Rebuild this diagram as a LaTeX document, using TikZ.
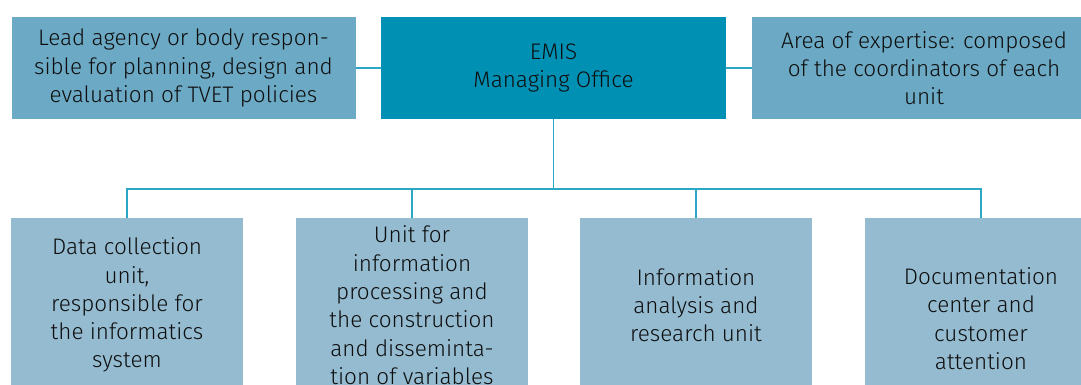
\documentclass[tikz,border=0pt]{standalone}
\usepackage{fontspec}
\setmainfont{Fira Sans Light}
\definecolor{emisOffice}{HTML}{0090B4}
\definecolor{emisSide}{HTML}{6BA9C4}
\definecolor{emisUnit}{HTML}{94BBD0}
\definecolor{emisLink}{HTML}{2BA6C4}
\definecolor{emisText}{HTML}{0E0E0E}

\begin{document}
\begin{tikzpicture}[x=1pt, y=-1pt,
    box/.style={rectangle, inner sep=0pt, align=center, text=emisText,
        font=\fontsize{22.5}{28.3}\selectfont},
    sidebox/.style={box, fill=emisSide, minimum width=344pt, minimum height=102pt},
    officebox/.style={box, fill=emisOffice, minimum width=345pt, minimum height=102pt},
    unitbox/.style={box, fill=emisUnit, anchor=north, minimum width=231.5pt, minimum height=174pt},
    link/.style={draw=emisLink, line width=1.8pt}]
    \useasboundingbox (0,0) rectangle (1081,385);
    \clip (0,0) rectangle (1081,385);
    % top row
    \node[sidebox] (lead) at (183.5,68) {Lead agency or body respon-\\sible for planning, design and\\evaluation of TVET policies};
    \node[officebox] (office) at (553.5,68) {EMIS\\Managing Office};
    \node[sidebox] (expert) at (924,68) {Area of expertise: composed\\of the coordinators of each\\unit};
    % units
    \node[unitbox] (collect) at (127,218) {Data collection\\unit,\\responsible for\\the informatics\\system};
    \node[unitbox] (process) at (412,218) {Unit for\\information\\processing and\\the construction\\and disseminta-\\tion of variables};
    \node[unitbox] (analysis) at (696,218) {Information\\analysis and\\research unit};
    \node[unitbox, minimum height=201pt] (doc) at (981,218) {Documentation\\center and\\customer\\attention};
    % links
    \coordinate (bus) at (0,189);
    \draw[link] (lead) -- (office);
    \draw[link] (office) -- (expert);
    \draw[link] (office.south) -- (office.south |- bus);
    \draw[link] (collect.north) -- (collect.north |- bus) -- (doc.north |- bus) -- (doc.north);
    \draw[link] (process.north) -- (process.north |- bus);
    \draw[link] (analysis.north) -- (analysis.north |- bus);
\end{tikzpicture}
\end{document}
